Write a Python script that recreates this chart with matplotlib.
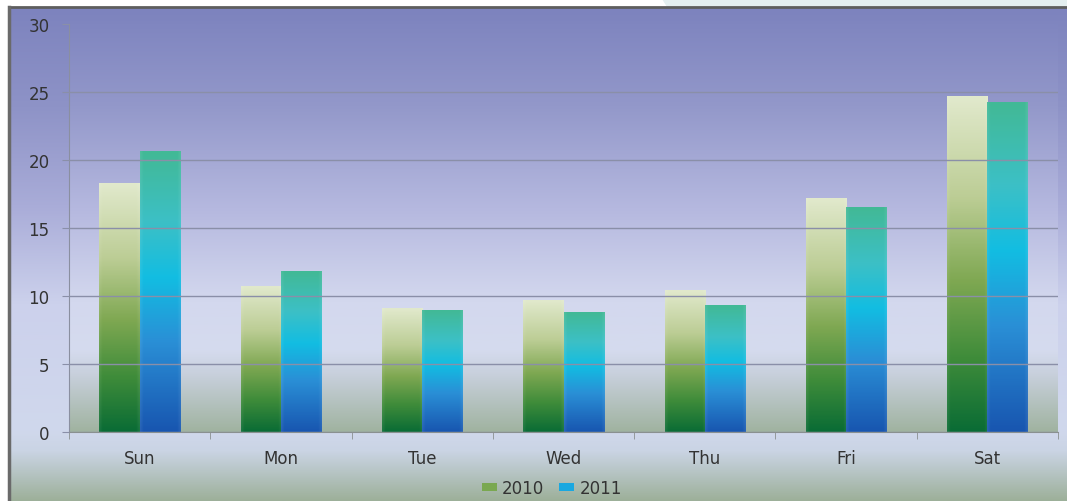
import numpy as np
import matplotlib.pyplot as plt
from matplotlib.colors import LinearSegmentedColormap
from matplotlib.patches import Patch, Polygon
from matplotlib.lines import Line2D

days = ['Sun', 'Mon', 'Tue', 'Wed', 'Thu', 'Fri', 'Sat']
sales_2010 = [18.3, 10.7, 9.1, 9.7, 10.4, 17.2, 24.7]
sales_2011 = [20.6, 11.8, 8.9, 8.8, 9.3, 16.5, 24.2]
y_ticks = [0, 5, 10, 15, 20, 25, 30]

plt.rcParams['font.family'] = ['DejaVu Sans']

W, H = 1067, 502
fig = plt.figure(figsize=(W / 100, H / 100), dpi=100)
fig.patch.set_facecolor('white')

# gradients, listed top -> bottom
frame_cmap = LinearSegmentedColormap.from_list('frame', [
    (0.0, '#7d83be'), (0.2, '#8e93c7'), (0.4, '#a9acd8'), (0.6, '#ccd1ec'),
    (0.86, '#d0d8ec'), (0.9, '#cad4e4'), (1.0, '#9db09a')])
plot_cmap = LinearSegmentedColormap.from_list('plot', [
    (0.0, '#8086c0'), (0.2, '#9398ca'), (0.45, '#b5b8df'), (0.68, '#d3d8ee'),
    (0.8, '#d5dbee'), (0.86, '#c8d0dc'), (1.0, '#a0b3a0')])
cmap_2010 = LinearSegmentedColormap.from_list('c2010', [
    (0.0, '#e1e9cc'), (0.3, '#bccd95'), (0.55, '#7fa852'), (0.78, '#3f8c3a'), (1.0, '#0a6c35')])
cmap_2011 = LinearSegmentedColormap.from_list('c2011', [
    (0.0, '#42b996'), (0.25, '#3cc0c6'), (0.45, '#12bde2'), (0.68, '#2a8fd6'), (1.0, '#1856b0')])

# outer frame
bg = fig.add_axes([10 / W, 0, 1 - 10 / W, (H - 9) / H], zorder=0)
bg.imshow(np.linspace(0, 1, 256).reshape(-1, 1), cmap=frame_cmap, aspect='auto',
          extent=[0, 1, 0, 1])
bg.set_axis_off()

fig.patches.append(Polygon([(662 / W, 1), (1, 1), (1, 1 - 8 / H), (667 / W, 1 - 8 / H)],
                           closed=True, facecolor='#e4eff0', edgecolor='none',
                           transform=fig.transFigure, figure=fig))
fig.lines.append(Line2D([9 / W, 1], [1 - 8 / H, 1 - 8 / H], color='#5e5e5e', lw=2,
                        transform=fig.transFigure, figure=fig))
fig.lines.append(Line2D([9 / W, 9 / W], [0, 1 - 8 / H], color='#6a6a6a', lw=2.5,
                        transform=fig.transFigure, figure=fig))

# plot area
ax = fig.add_axes([69 / W, (H - 433) / H, (1058 - 69) / W, (433 - 25) / H], zorder=1)
ax.imshow(np.linspace(0, 1, 256).reshape(-1, 1), cmap=plot_cmap, aspect='auto',
          extent=[0, 1, 0, 1], transform=ax.transAxes, zorder=0)

x = np.arange(len(days))
bw = 0.285
bars_2010 = ax.bar(x - bw / 2, sales_2010, bw, color='none', zorder=2)
bars_2011 = ax.bar(x + bw / 2, sales_2011, bw, color='none', zorder=2)


def fill_bar(rect, cmap):
    x0, w, h = rect.get_x(), rect.get_width(), rect.get_height()
    rows = cmap(np.linspace(0, 1, 200))[:, :3]
    cols = np.linspace(0, 1, 40)
    # faint highlight along both edges
    light = 0.07 * (np.clip(1 - cols / 0.08, 0, 1) + np.clip((cols - 0.92) / 0.08, 0, 1))
    img = rows[:, None, :] * (1 - light[None, :, None]) + light[None, :, None]
    ax.imshow(img, extent=[x0, x0 + w, 0, h], aspect='auto', zorder=2,
              interpolation='bilinear')


for r in bars_2010:
    fill_bar(r, cmap_2010)
for r in bars_2011:
    fill_bar(r, cmap_2011)

ax.set_xlim(-0.5, len(days) - 0.5)
ax.set_ylim(0, 30)
ax.set_yticks(y_ticks)
ax.set_xticks(x)
ax.set_xticklabels(days)
ax.set_xticks(np.arange(len(days) + 1) - 0.5, minor=True)

ax.yaxis.grid(True, color='#8a8fa8', lw=1)
ax.get_ygridlines()[-1].set_visible(False)
ax.set_axisbelow(False)
for gl in ax.get_ygridlines():
    gl.set_zorder(1)

for s in ['top', 'right']:
    ax.spines[s].set_visible(False)
ax.spines['left'].set_color('#8a8fa0')
ax.spines['bottom'].set_color('#8a9090')

ax.tick_params(axis='y', length=5, color='#8a8fa8', pad=9, labelsize=12,
               labelcolor='#333333')
ax.tick_params(axis='x', which='major', length=0, pad=12, labelsize=12,
               labelcolor='#333333')
ax.tick_params(axis='x', which='minor', length=5, color='#8a9090')

handles = [Patch(facecolor='#7aa850', edgecolor='none', label='2010'),
           Patch(facecolor='#1aa8e0', edgecolor='none', label='2011')]
fig.legend(handles=handles, loc='center', bbox_to_anchor=(552 / W, 1 - 489 / H),
           ncol=2, frameon=False, fontsize=12, handlelength=0.9, handleheight=0.35,
           handletextpad=0.3, columnspacing=0.9, labelcolor='#333333')

fig.savefig('out.png', dpi=100)
